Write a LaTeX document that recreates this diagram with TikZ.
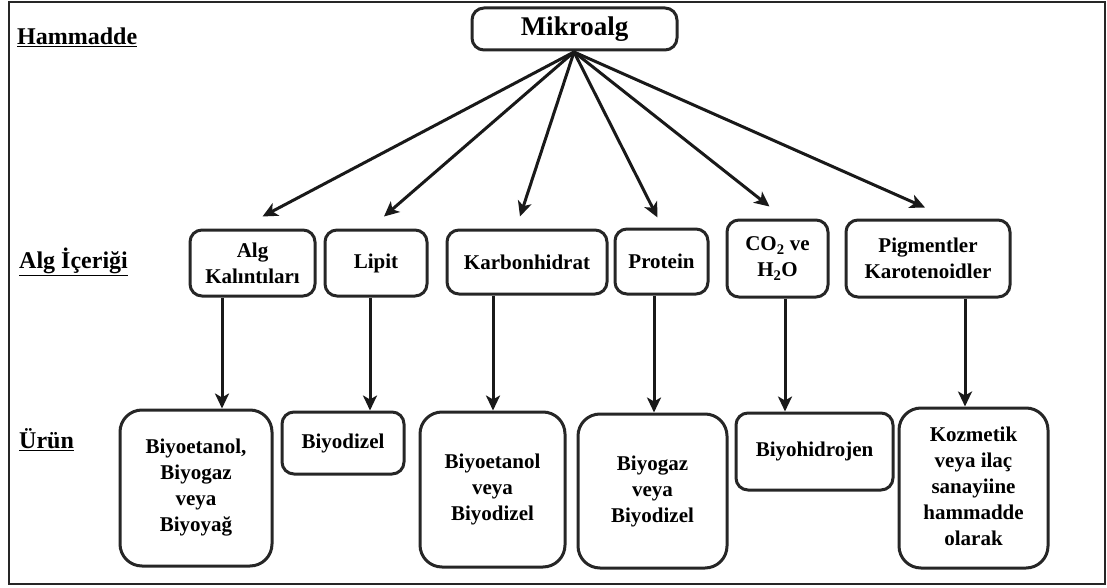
\documentclass[tikz,border=0pt]{standalone}
\usepackage{fontspec}
\setmainfont{Liberation Serif}
\usetikzlibrary{arrows.meta,calc}
\tikzset{
  box/.style={draw=black!85, line width=3pt, rounded corners=12pt, align=center,
    font=\fontsize{21}{26}\selectfont\bfseries, inner sep=0pt},
  tall/.style={box, rounded corners=22pt},
  arr/.style={draw=black!90, line width=3pt, -{Stealth[length=15pt,width=14pt,inset=4pt]}},
  lvl/.style={anchor=west, font=\fontsize{24}{28}\selectfont\bfseries, inner sep=0pt}
}
\begin{document}
\begin{tikzpicture}[x=1pt,y=-1pt]
\useasboundingbox (0,0) rectangle (1107,588);
\draw[line width=2.4pt, black!85] (9,2) rectangle (1105,584);

% level labels
\node[lvl] (hl) at (17,37) {\underline{Hammadde}};
\node[lvl] (al) at (19,262) {\underline{Alg İçeriği}};
\node[lvl] (ul) at (19,440) {\underline{Ürün}};

% top
\node[box, minimum width=205pt, minimum height=42pt, font=\fontsize{27}{30}\selectfont\bfseries] (mik) at (574.5,29) {Mikroalg};
\coordinate (hub) at (574,52);

% middle row
\node[box, minimum width=125pt, minimum height=66pt] (b1) at (252.5,263) {Alg\\Kalıntıları};
\node[box, minimum width=102pt, minimum height=66pt] (b2) at (376,263) {Lipit};
\node[box, minimum width=160pt, minimum height=64pt] (b3) at (527,262) {Karbonhidrat};
\node[box, minimum width=93pt, minimum height=65pt] (b4) at (661.5,261.5) {Protein};
\node[box, minimum width=101pt, minimum height=77pt] (b5) at (777.5,258.5) {CO\textsubscript{2} ve\\H\textsubscript{2}O};
\node[box, minimum width=164pt, minimum height=77pt] (b6) at (928,258.5) {Pigmentler\\Karotenoidler};

% bottom row
\node[tall, minimum width=152pt, minimum height=156pt] (p1) at (196,488) {Biyoetanol,\\Biyogaz\\veya\\Biyoyağ};
\node[box, minimum width=122pt, minimum height=62pt] (p2) at (343,443) {Biyodizel};
\node[tall, minimum width=145pt, minimum height=155pt] (p3) at (492.5,489.5) {Biyoetanol\\veya\\Biyodizel};
\node[tall, minimum width=149pt, minimum height=154pt] (p4) at (652.5,491) {Biyogaz\\veya\\Biyodizel};
\node[box, minimum width=157pt, minimum height=77pt] (p5) at (814.5,451.5) {\raisebox{4pt}{Biyohidrojen}};
\node[tall, minimum width=149pt, minimum height=160pt] (p6) at (973.5,488) {\raisebox{6pt}{\begin{tabular}{@{}c@{}}Kozmetik\\veya ilaç\\sanayiine\\hammadde\\olarak\end{tabular}}};

% arrows from Mikroalg
\draw[arr] (hub) -- ($(b1.north)+(10,-12)$);
\draw[arr] (hub) -- ($(b2.north)+(8,-12)$);
\draw[arr] (hub) -- ($(b3.north)+(-7,-12)$);
\draw[arr] (hub) -- ($(b4.north)+(-4,-10)$);
\draw[arr] (hub) -- ($(b5.north)+(-8,-12)$);
\draw[arr] (hub) -- ($(b6.north)+(-3,-11)$);

% vertical arrows
\coordinate (x1) at (222,0);
\coordinate (x2) at (370,0);
\coordinate (x3) at (493,0);
\coordinate (x4) at (654,0);
\coordinate (x5) at (785,0);
\coordinate (x6) at (965,0);
\draw[arr] (b1.south -| x1) -- (p1.north -| x1);
\draw[arr] (b2.south -| x2) -- (p2.north -| x2);
\draw[arr] (b3.south -| x3) -- (p3.north -| x3);
\draw[arr] (b4.south -| x4) -- (p4.north -| x4);
\draw[arr] (b5.south -| x5) -- (p5.north -| x5);
\draw[arr] (b6.south -| x6) -- (p6.north -| x6);
\end{tikzpicture}
\end{document}
